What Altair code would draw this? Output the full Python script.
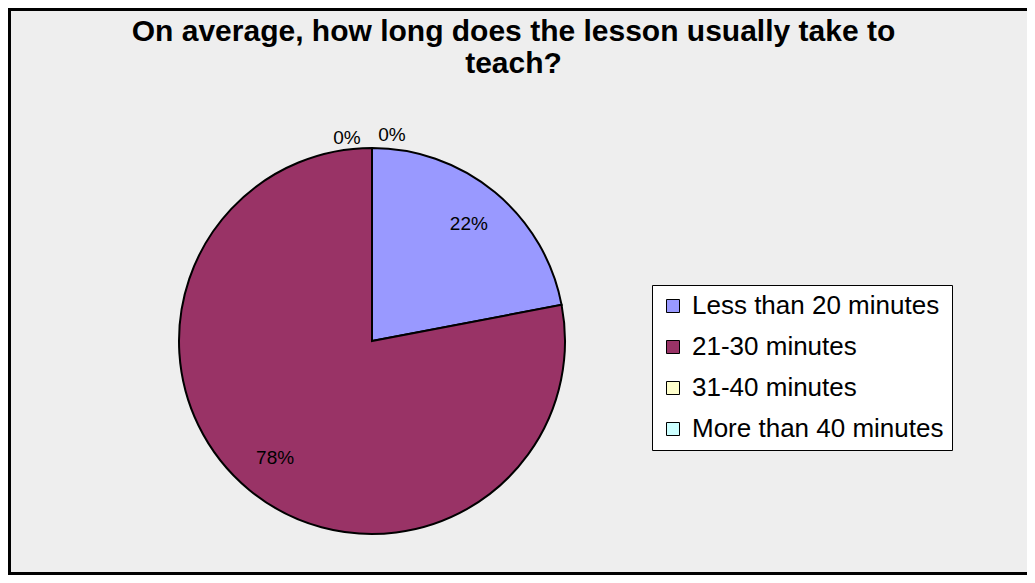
import altair as alt
import pandas as pd

categories = ["Less than 20 minutes", "21-30 minutes", "31-40 minutes", "More than 40 minutes"]
values = [22, 78, 0, 0]
colors = ["#9999FF", "#993366", "#FFFFCC", "#CCFFFF"]
title_lines = ["On average, how long does the lesson usually take to", "teach?"]

df = pd.DataFrame({"category": categories, "value": values, "order": list(range(len(categories)))})

W, H, PT = 1019, 477, 90
CX, CY = 364, 243
R = 193
FONT = "Liberation Sans"

base = alt.Chart(df).encode(
    theta=alt.Theta("value:Q", stack=True),
    order=alt.Order("order:Q"),
)

pie = base.mark_arc(radius=R, stroke="black", strokeWidth=2).encode(
    x=alt.value(CX),
    y=alt.value(CY),
    color=alt.Color(
        "category:N",
        scale=alt.Scale(domain=categories, range=colors),
        legend=alt.Legend(
            title=None,
            orient="none",
            legendX=644,
            legendY=187,
            fillColor="white",
            strokeColor="#000000",
            padding=8,
            symbolType="square",
            symbolSize=169,
            symbolStrokeColor="black",
            symbolStrokeWidth=1,
            labelFontSize=26,
            labelFont=FONT,
            labelColor="black",
            rowPadding=15,
            labelOffset=6,
            labelLimit=500,
        ),
    ),
)


def label_layer(expr, radius, dx=0, dy=0):
    return base.transform_calculate(lbl=expr).mark_text(
        radius=radius, dx=dx, dy=dy, font=FONT, fontSize=19, color="black"
    ).encode(x=alt.value(CX), y=alt.value(CY), text="lbl:N")


inner = label_layer(
    "(datum.category == 'Less than 20 minutes' || datum.category == '21-30 minutes') ? format(datum.value, '.0f') + '%' : ''",
    152,
)
zero_a = label_layer(
    "datum.category == '31-40 minutes' ? format(datum.value, '.0f') + '%' : ''", 203, dx=-25, dy=0
)
zero_b = label_layer(
    "datum.category == 'More than 40 minutes' ? format(datum.value, '.0f') + '%' : ''", 206, dx=20, dy=0
)

frame_df = pd.DataFrame({"k": [0]})

title = alt.Chart(frame_df).mark_text(
    text=title_lines,
    font=FONT,
    fontSize=30,
    fontWeight="bold",
    color="black",
    align="center",
    baseline="middle",
    lineHeight=32,
).encode(x=alt.value(W / 2 - 4), y=alt.value(-PT + 24))

top_rule = alt.Chart(frame_df).mark_rule(color="black", strokeWidth=3).encode(
    x=alt.value(0), x2=alt.value(W), y=alt.value(-PT + 1.5)
)
left_rule = alt.Chart(frame_df).mark_rule(color="black", strokeWidth=3).encode(
    x=alt.value(1.5), y=alt.value(-PT), y2=alt.value(H)
)
bottom_rule = alt.Chart(frame_df).mark_rule(color="black", strokeWidth=3).encode(
    x=alt.value(0), x2=alt.value(W), y=alt.value(H - 1.5)
)

chart = alt.layer(pie, inner, zero_a, zero_b, title, top_rule, left_rule, bottom_rule).properties(
    width=W,
    height=H,
    autosize=alt.AutoSizeParams(type="none"),
    padding={"left": 0, "top": PT, "right": 0, "bottom": 0},
).configure(background="#EEEEEE").configure_view(stroke=None)

chart.save("out.html", embed_options={"renderer": "svg", "actions": False})
